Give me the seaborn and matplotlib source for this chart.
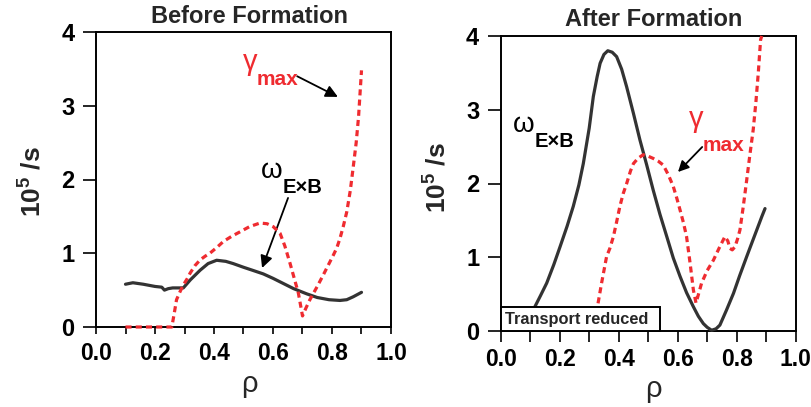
import matplotlib
matplotlib.use("Agg")
import matplotlib.pyplot as plt
import seaborn as sns
import pandas as pd
from matplotlib.patches import Rectangle

# ---------------- data ----------------
titles = ["Before Formation", "After Formation"]
x_ticks = [0.0, 0.2, 0.4, 0.6, 0.8, 1.0]
x_tick_labels = ["0.0", "0.2", "0.4", "0.6", "0.8", "1.0"]
y_ticks = [0, 1, 2, 3, 4]
y_tick_labels = ["0", "1", "2", "3", "4"]

before_omega_rho = [0.10, 0.125, 0.16, 0.20, 0.223, 0.232, 0.245, 0.26, 0.28, 0.296,
                    0.32, 0.353, 0.38, 0.409, 0.44, 0.465, 0.50, 0.53, 0.567, 0.60,
                    0.635, 0.67, 0.714, 0.75, 0.79, 0.827, 0.85, 0.872, 0.90]
before_omega = [0.58, 0.60, 0.58, 0.55, 0.54, 0.50, 0.52, 0.53, 0.53, 0.53,
                0.64, 0.77, 0.86, 0.905, 0.89, 0.86, 0.81, 0.77, 0.72, 0.66,
                0.59, 0.52, 0.45, 0.40, 0.37, 0.36, 0.37, 0.41, 0.47]

before_gamma_rho = [0.10, 0.15, 0.20, 0.257, 0.265, 0.273, 0.285, 0.296, 0.31, 0.319,
                    0.335, 0.353, 0.37, 0.386, 0.41, 0.432, 0.46, 0.488, 0.52, 0.556,
                    0.58, 0.601, 0.624, 0.64, 0.658, 0.672, 0.686, 0.70, 0.712, 0.725,
                    0.75, 0.771, 0.79, 0.804, 0.816, 0.827, 0.838, 0.85, 0.862, 0.872,
                    0.882, 0.89, 0.90]
before_gamma = [0.0, 0.0, 0.0, 0.0, 0.18, 0.37, 0.48, 0.57, 0.66, 0.73,
                0.83, 0.91, 0.96, 1.0, 1.08, 1.16, 1.23, 1.29, 1.36, 1.41,
                1.40, 1.36, 1.27, 1.10, 0.86, 0.66, 0.46, 0.15, 0.26, 0.37,
                0.55, 0.71, 0.86, 0.97, 1.07, 1.20, 1.36, 1.56, 1.85, 2.17,
                2.50, 2.85, 3.48]

after_omega_rho = [0.10, 0.116, 0.135, 0.156, 0.18, 0.201, 0.225, 0.246, 0.265, 0.28,
                   0.30, 0.314, 0.327, 0.337, 0.35, 0.363, 0.378, 0.393, 0.41, 0.427,
                   0.45, 0.472, 0.495, 0.517, 0.54, 0.563, 0.585, 0.608, 0.63, 0.653,
                   0.67, 0.687, 0.70, 0.715, 0.73, 0.743, 0.765, 0.789, 0.81, 0.834,
                   0.85, 0.868, 0.885, 0.896]
after_omega = [0.12, 0.33, 0.48, 0.65, 0.90, 1.14, 1.42, 1.69, 1.98, 2.27,
               2.75, 3.18, 3.45, 3.63, 3.75, 3.80, 3.78, 3.72, 3.55, 3.31,
               2.95, 2.59, 2.25, 1.91, 1.58, 1.28, 0.99, 0.74, 0.52, 0.33,
               0.20, 0.10, 0.05, 0.01, 0.03, 0.08, 0.28, 0.51, 0.75, 1.01,
               1.18, 1.37, 1.55, 1.66]

after_gamma_rho = [0.322, 0.328, 0.342, 0.359, 0.37, 0.382, 0.393, 0.404, 0.415, 0.427,
                   0.44, 0.45, 0.465, 0.483, 0.50, 0.517, 0.535, 0.551, 0.568, 0.585,
                   0.597, 0.608, 0.62, 0.63, 0.642, 0.653, 0.662, 0.672, 0.681, 0.70,
                   0.721, 0.74, 0.76, 0.77, 0.777, 0.785, 0.794, 0.803, 0.811, 0.822,
                   0.834, 0.845, 0.856, 0.865, 0.873, 0.881, 0.885]
after_gamma = [0.10, 0.33, 0.65, 1.01, 1.12, 1.28, 1.48, 1.69, 1.86, 2.0,
               2.17, 2.27, 2.34, 2.39, 2.37, 2.34, 2.30, 2.25, 2.12, 1.96,
               1.80, 1.64, 1.46, 1.28, 0.92, 0.56, 0.38, 0.52, 0.65, 0.82,
               0.96, 1.12, 1.28, 1.22, 1.12, 1.10, 1.14, 1.25, 1.37, 1.68,
               2.05, 2.40, 2.73, 3.10, 3.49, 3.95, 4.0]

box_text = "Transport reduced"

# ---------------- style ----------------
sns.set_style("ticks")
FAM = ["Liberation Sans", "DejaVu Sans"]
plt.rcParams["font.family"] = FAM
plt.rcParams["mathtext.fontset"] = "custom"
plt.rcParams["mathtext.rm"] = "Liberation Sans"
plt.rcParams["mathtext.bf"] = "Liberation Sans:bold"
plt.rcParams["mathtext.it"] = "Liberation Sans:italic"

RED = "#ef2b30"
DARK = "#333333"

W, H = 811, 407
fig = plt.figure(figsize=(W / 100, H / 100), dpi=100)
axL = fig.add_axes([96 / W, 80 / H, 295 / W, 295 / H])
axR = fig.add_axes([500.7 / W, 76 / H, 295 / W, 295 / H])


def draw(ax, orx, ory, grx, gry):
    sns.lineplot(x=orx, y=ory, ax=ax, color=DARK, lw=2.3, sort=False,
                 estimator=None, clip_on=False, zorder=3)
    sns.lineplot(x=grx, y=gry, ax=ax, color=RED, lw=2.3, sort=False,
                 estimator=None, linestyle=(0, (1.9, 1.3)), clip_on=False,
                 zorder=4)


draw(axL, before_omega_rho, before_omega, before_gamma_rho, before_gamma)
draw(axR, after_omega_rho, after_omega, after_gamma_rho, after_gamma)

for ax, xtl, xpad in ((axL, 5, 6), (axR, 8, 4)):
    ax.set_xlim(0, 1)
    ax.set_ylim(0, 4)
    ax.set_xticks(x_ticks)
    ax.set_xticklabels(x_tick_labels, fontweight="bold", fontsize=16.5)
    ax.set_xticks([0.1, 0.3, 0.5, 0.7, 0.9], minor=True)
    ax.set_yticks(y_ticks)
    ax.set_yticklabels(y_tick_labels, fontweight="bold", fontsize=17)
    ax.tick_params(axis="x", which="both", direction="out", length=xtl, width=1.2,
                   pad=xpad, colors="black")
    ax.tick_params(axis="y", which="major", direction="out", length=9.5, width=1.2,
                   pad=6, colors="black")
    for s in ax.spines.values():
        s.set_visible(True)
        s.set_linewidth(1.4)
        s.set_color("black")
    ax.set_xlabel("")
    ax.set_ylabel("")

# y labels
for ax, lx, ly in ((axL, -0.168, 0.493), (axR, -0.168, 0.519)):
    ax.set_ylabel(r"$\mathbf{10^{5}\ /s}$", fontsize=19)
    ax.yaxis.set_label_coords(lx, ly)

# titles
fig.text(249.5 / W, 1 - 23 / H, titles[0], ha="center", va="baseline",
         fontsize=17, fontweight="bold")
fig.text(654 / W, 1 - 26 / H, titles[1], ha="center", va="baseline",
         fontsize=17, fontweight="bold")

# x labels (rho)
fig.text(249 / W, 1 - 392 / H, "ρ", ha="center", va="baseline", fontsize=21)
fig.text(653 / W, 1 - 397 / H, "ρ", ha="center", va="baseline", fontsize=21)


def sub_label(ax, x, y, sx, sy, main, sub, color, msize, ssize):
    ax.text(x, y, main, color=color, fontsize=msize, ha="left", va="baseline")
    ax.text(sx, sy, sub, color=color, fontsize=ssize, fontweight="bold",
            ha="left", va="baseline")


# annotations, left
sub_label(axL, 0.498, 3.485, 0.546, 3.28, "γ", "max", RED, 21, 15)
axL.annotate("", xy=(0.820, 3.12), xytext=(0.682, 3.40),
             arrowprops=dict(arrowstyle="-|>", color="black", lw=1.3,
                             mutation_scale=18, shrinkA=0, shrinkB=0))
sub_label(axL, 0.560, 2.02, 0.634, 1.817, "ω", "E×B", "black", 20, 14.5)
axL.annotate("", xy=(0.563, 0.80), xytext=(0.651, 1.75),
             arrowprops=dict(arrowstyle="-|>", color="black", lw=1.3,
                             mutation_scale=18, shrinkA=0, shrinkB=0))

# annotations, right
sub_label(axR, 0.040, 2.70, 0.116, 2.495, "ω", "E×B", "black", 20, 14.5)
sub_label(axR, 0.638, 2.766, 0.686, 2.44, "γ", "max", RED, 21, 15)
axR.annotate("", xy=(0.601, 2.156), xytext=(0.683, 2.495),
             arrowprops=dict(arrowstyle="-|>", color="black", lw=1.3,
                             mutation_scale=16, shrinkA=0, shrinkB=0))

# transport reduced box
axR.add_patch(Rectangle((0, 0), 0.54, 0.081, transform=axR.transAxes,
                        facecolor="white", edgecolor="black", lw=1.4,
                        zorder=6, clip_on=False))
axR.text(0.015, 0.038, box_text, transform=axR.transAxes, ha="left",
         va="center", fontsize=11.8, fontweight="bold", zorder=7)

fig.savefig("out.png", dpi=100)
